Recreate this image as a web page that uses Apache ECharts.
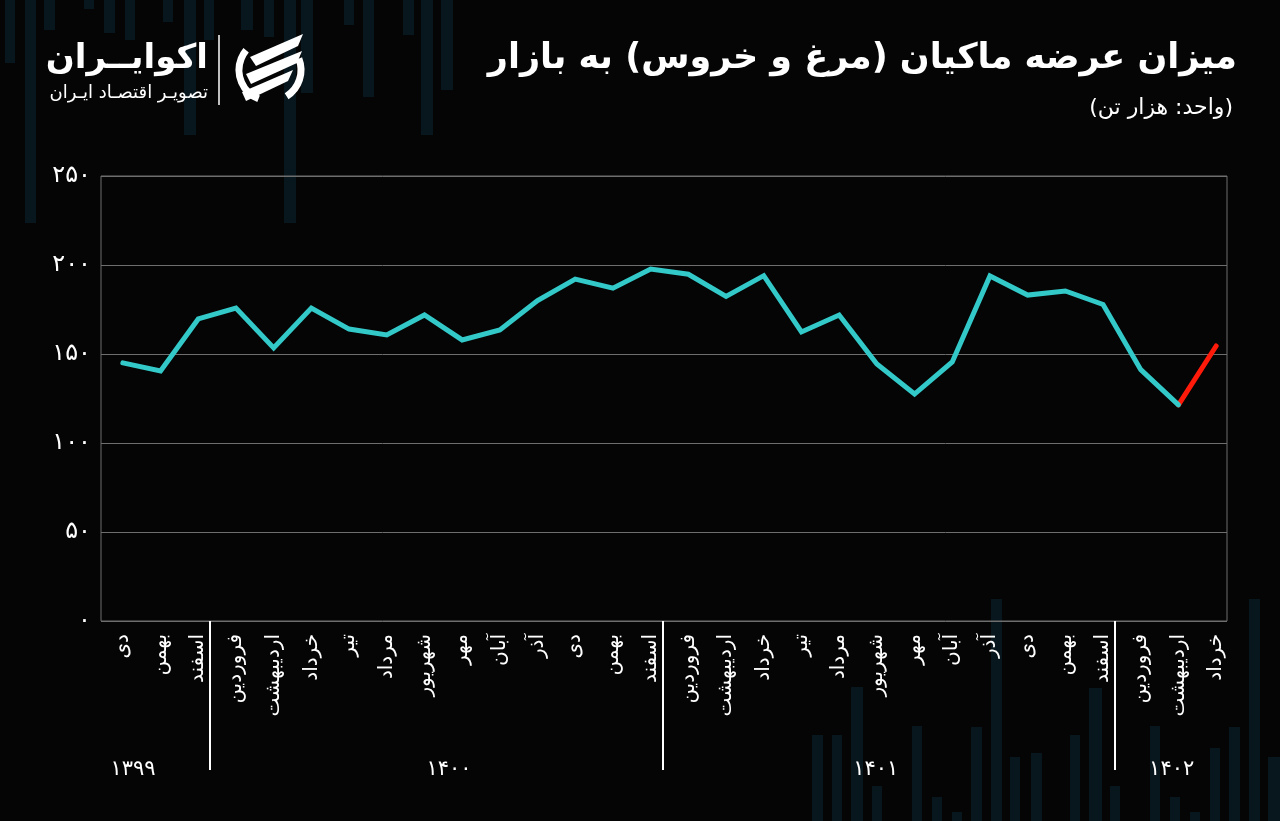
<!DOCTYPE html>
<html>
<head>
<meta charset="utf-8">
<script src="https://cdn.jsdelivr.net/npm/echarts@6/dist/echarts.min.js"></script>
<style>
html,body{margin:0;padding:0;background:#050505;}
#chart{width:1280px;height:821px;}
</style>
</head>
<body>
<div id="chart"></div>
<script>
// ---- data ----
const months = ['دی','بهمن','اسفند',
  'فروردین','اردیبهشت','خرداد','تیر','مرداد','شهریور','مهر','آبان','آذر','دی','بهمن','اسفند',
  'فروردین','اردیبهشت','خرداد','تیر','مرداد','شهریور','مهر','آبان','آذر','دی','بهمن','اسفند',
  'فروردین','اردیبهشت','خرداد'];
const supply = [145, 140.5, 169.7,
  175.8, 153.4, 175.8, 164, 160.7, 171.9, 157.9, 163.5, 180, 192.1, 187, 197.7,
  194.8, 182.4, 194, 162.4, 171.9, 144.4, 127.5, 145.5, 193.8, 183.1, 185.4, 177.8,
  141.2, 121.4, 154.5];
const years = ['۱۳۹۹','۱۴۰۰','۱۴۰۱','۱۴۰۲'];
const yearPos = [0.27, 8.65, 19.97, 27.82];      // label positions on the month index scale
const yearBreaks = [2.31, 14.33, 26.31];         // separator positions on the month index scale
const highlightFrom = 28;                        // last segment drawn in red
const yTicks = {min: 0, max: 250, step: 50};

const toFa = s => String(s).replace(/\d/g, d => '۰۱۲۳۴۵۶۷۸۹'[d]);
const tealData = supply.map((v, i) => i <= highlightFrom ? v : null);
const redData = supply.map((v, i) => i >= highlightFrom ? v : null);

const FONT = 'DejaVu Sans';
const chart = echarts.init(document.getElementById('chart'));

// decorative background stripes
const deco = [
  [5,0,10,63],[25,0,11,223],[44,0,11,30],[84,0,10,9],[104,0,11,33],[125,0,10,40],
  [163,0,10,22],[184,0,12,135],[204,0,10,40],[241,0,12,30],[264,0,10,37],[284,0,12,223],
  [301,0,12,93],[344,0,10,25],[363,0,11,97],[403,0,11,35],[421,0,12,135],[441,0,12,90],
  [812,735,11,86],[832,735,10,86],[851,687,12,134],[872,786,10,35],[912,726,10,95],
  [932,797,10,24],[952,812,10,9],[971,727,11,94],[991,599,11,222],[1010,757,10,64],
  [1031,753,11,68],[1070,735,10,86],[1089,688,13,133],[1110,786,10,35],[1150,726,10,95],
  [1170,797,10,24],[1190,812,10,9],[1210,748,10,73],[1229,727,11,94],[1249,599,11,222],
  [1268,757,12,64]
].map(r => ({type:'rect', silent:true, z:-10, shape:{x:r[0],y:r[1],width:r[2],height:r[3]},
  style:{fill:'#08171e'}}));

const logo = [
  {type:'text', z:10, style:{x:208, y:59, text:'اکوایــران', align:'right', verticalAlign:'middle',
    fill:'#ffffff', font:'bold 34px "DejaVu Sans"'}},
  {type:'text', z:10, style:{x:208, y:93, text:'تصویـر اقتصـاد ایـران', align:'right', verticalAlign:'middle',
    fill:'#ffffff', font:'18px "DejaVu Sans"'}},
  {type:'line', z:10, shape:{x1:219,y1:35,x2:219,y2:105}, style:{stroke:'#ffffff', lineWidth:1.5}},
  {type:'arc', z:10, shape:{cx:270, cy:70, r:31, startAngle:Math.PI*0.62, endAngle:Math.PI*1.22},
    style:{stroke:'#ffffff', lineWidth:7, fill:null}},
  {type:'arc', z:10, shape:{cx:270, cy:70, r:31, startAngle:-Math.PI*0.12, endAngle:Math.PI*0.32},
    style:{stroke:'#ffffff', lineWidth:7, fill:null}},
  {type:'polygon', z:10, shape:{points:[[250,57],[303,34],[298,46],[256,66]]}, style:{fill:'#ffffff'}},
  {type:'polygon', z:10, shape:{points:[[246,74],[302,51],[297,63],[251,84]]}, style:{fill:'#ffffff'}},
  {type:'polygon', z:10, shape:{points:[[242,92],[293,70],[288,81],[246,101]]}, style:{fill:'#ffffff'}}
];

chart.setOption({
  backgroundColor: '#050505',
  animation: false,
  title: [
    {text: 'میزان عرضه ماکیان (مرغ و خروس) به بازار', right: 38, top: 36,
     textStyle: {color:'#ffffff', fontSize: 35, fontWeight:'bold', fontFamily: FONT}},
    {text: '(واحد: هزار تن)', right: 42, top: 92,
     textStyle: {color:'#ffffff', fontSize: 22, fontWeight:'normal', fontFamily: FONT}}
  ],
  graphic: deco.concat(logo),
  grid: [
    {left: 101, right: 53, top: 176, bottom: 200, show: true, borderColor: '#6e6e6e', borderWidth: 1,
     backgroundColor: 'transparent'},
    {left: 104, right: 45, top: 176, bottom: 200}
  ],
  xAxis: [
    {gridIndex: 0, type: 'value', show: false, min: 0, max: 1},
    {gridIndex: 1, type: 'category', data: months, boundaryGap: true,
     axisLine: {show:false}, axisTick: {show:false}, splitLine: {show:false},
     axisLabel: {interval: 0, rotate: 90, color:'#ffffff', fontSize: 20, fontFamily: FONT, margin: 13}},
    {gridIndex: 1, type: 'value', min: -0.5, max: 29.5, position: 'bottom',
     axisLine: {show:false}, splitLine: {show:false},
     axisTick: {show:true, customValues: yearBreaks, length: 149, inside:false,
       lineStyle:{color:'#ffffff', width:2}},
     axisLabel: {show:true, customValues: yearPos, margin: 138, color:'#ffffff', fontSize: 21, fontFamily: FONT,
       formatter: v => { const i = yearPos.indexOf(v); return i >= 0 ? years[i] : ''; }}}
  ],
  yAxis: [
    {gridIndex: 0, type: 'value', min: yTicks.min, max: yTicks.max, interval: yTicks.step,
     axisLine: {show:false}, axisTick: {show:false},
     splitLine: {show:true, lineStyle:{color:'#6e6e6e', width:1}},
     axisLabel: {color:'#ffffff', fontSize: 24, fontFamily: FONT, margin: 10, formatter: v => toFa(v)}},
    {gridIndex: 1, type: 'value', min: yTicks.min, max: yTicks.max, show: false}
  ],
  series: [
    {type:'line', xAxisIndex:1, yAxisIndex:1, data: tealData, symbol:'none', connectNulls:false,
     lineStyle:{color:'#33c9c9', width:5, cap:'round', join:'miter'}, z: 3},
    {type:'line', xAxisIndex:1, yAxisIndex:1, data: redData, symbol:'none',
     lineStyle:{color:'#ff1a0a', width:5, cap:'round'}, z: 2}
  ]
});
</script>
</body>
</html>
